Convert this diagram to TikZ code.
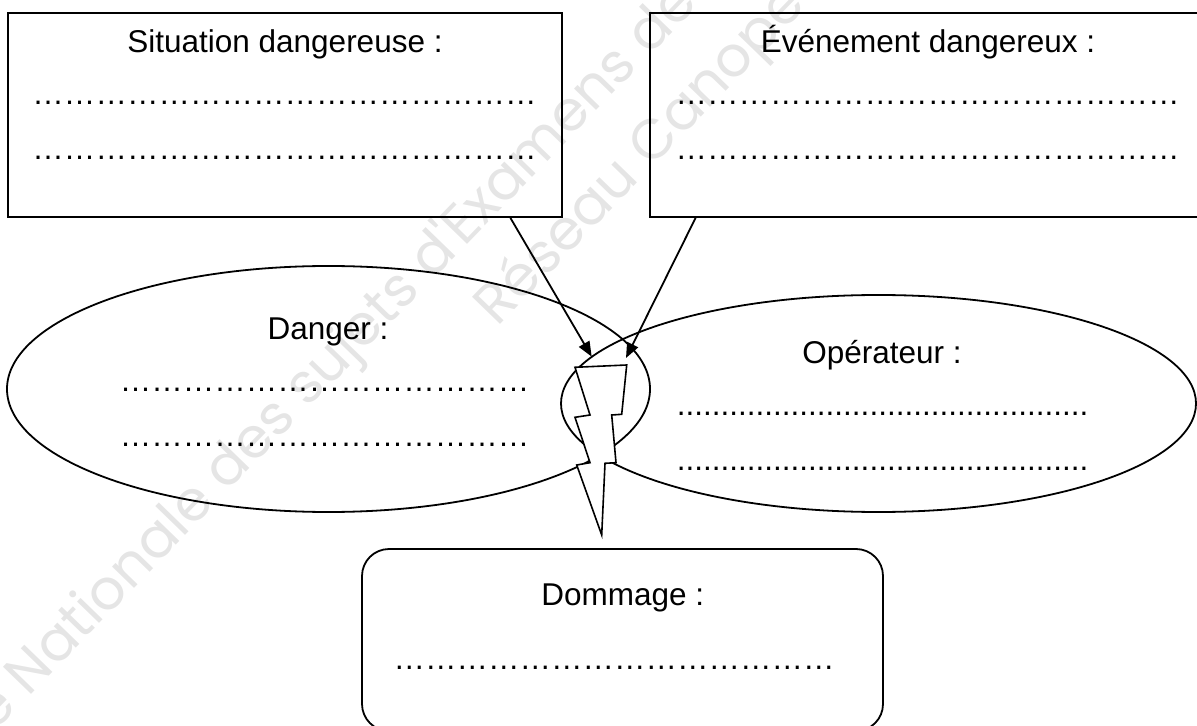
\documentclass[tikz,border=0pt]{standalone}
\usepackage{fontspec}
\setmainfont{Liberation Sans}
\newfontfamily\wmfont{Poppins}
\usetikzlibrary{shapes.geometric,arrows.meta,calc}
\newcommand\myrep[2]{\foreach \k in {1,...,#1}{#2}}
\begin{document}
\begin{tikzpicture}[x=0.5pt,y=-0.5pt,
  box/.style={draw,line width=0.9pt,inner sep=0pt},
  ell/.style={draw,ellipse,line width=0.9pt,inner sep=0pt},
  lbl/.style={font=\fontsize{15.75}{19}\selectfont,anchor=base,inner sep=0pt},
  arr/.style={line width=0.9pt,-{Triangle[length=7.5pt,width=6pt]}},
  bolt/.style={line width=0.8pt,fill=white,line join=miter},
  wm/.style={font=\wmfont\fontsize{28}{34}\selectfont,text=black!10,anchor=base west,inner sep=0pt,rotate=45.9}]
\useasboundingbox (0,0) rectangle (1197,726);
% watermark
\node[wm] (wm1) at (-6,733) {e Nationale des sujets d'Examens de};
\node[wm] (wm2) at (497,328) {Réseau Canopé};
% ellipses
\node[ell,minimum width=321.5pt,minimum height=123pt] (dgr) at (328.5,389) {};
\node[ell,minimum width=317.5pt,minimum height=108.5pt] (opr) at (878.5,403.5) {};
% boxes
\node[box,minimum width=277pt,minimum height=102pt] (sit) at (285,115) {};
\node[box,minimum width=277.5pt,minimum height=102pt] (evt) at (927.5,115) {};
\node[box,rounded corners=13.5pt,minimum width=260.5pt,minimum height=91pt] (dom) at (622.5,640) {};
% arrows
\coordinate (tipA) at (591.7,356.7);
\coordinate (tipB) at (626,358);
\draw[arr] ([xshift=-26.25pt]sit.south east) -- (tipA);
\draw[arr] ([xshift=23.25pt]evt.south west) -- (tipB);
% lightning
\draw[bolt] (575,367.3) -- (626.7,365) -- (621.7,414.3) -- (611.7,415) -- (616,462.7)
  -- (605,463.3) -- (601.7,535) -- (576.7,465) -- (590,462.7) -- (575,417.3)
  -- (590,415) -- cycle;
% texts
\node[lbl] (sitT) at (285,53) {Situation dangereuse :};
\node[lbl] (sitA) at (284.5,104.5) {\myrep{16}{…}};
\node[lbl] (sitB) at (284.5,159.5) {\myrep{16}{…}};
\node[lbl] (evtT) at (928,53) {Événement dangereux :};
\node[lbl] (evtA) at (927.5,104.5) {\myrep{16}{…}};
\node[lbl] (evtB) at (927.5,159.5) {\myrep{16}{…}};
\node[lbl] (dgrT) at (328,340) {Danger :};
\node[lbl] (dgrA) at (324.5,391.5) {\myrep{13}{…}};
\node[lbl] (dgrB) at (324.5,446.5) {\myrep{13}{…}};
\node[lbl] (oprT) at (882,364) {Opérateur :};
\node[lbl] (oprA) at (882.5,415.5) {\myrep{47}{.}};
\node[lbl] (oprB) at (882.5,470.5) {\myrep{47}{.}};
\node[lbl] (domT) at (622.7,605) {Dommage :};
\node[lbl] (domA) at (614,669.5) {\myrep{14}{…}};
\end{tikzpicture}
\end{document}
